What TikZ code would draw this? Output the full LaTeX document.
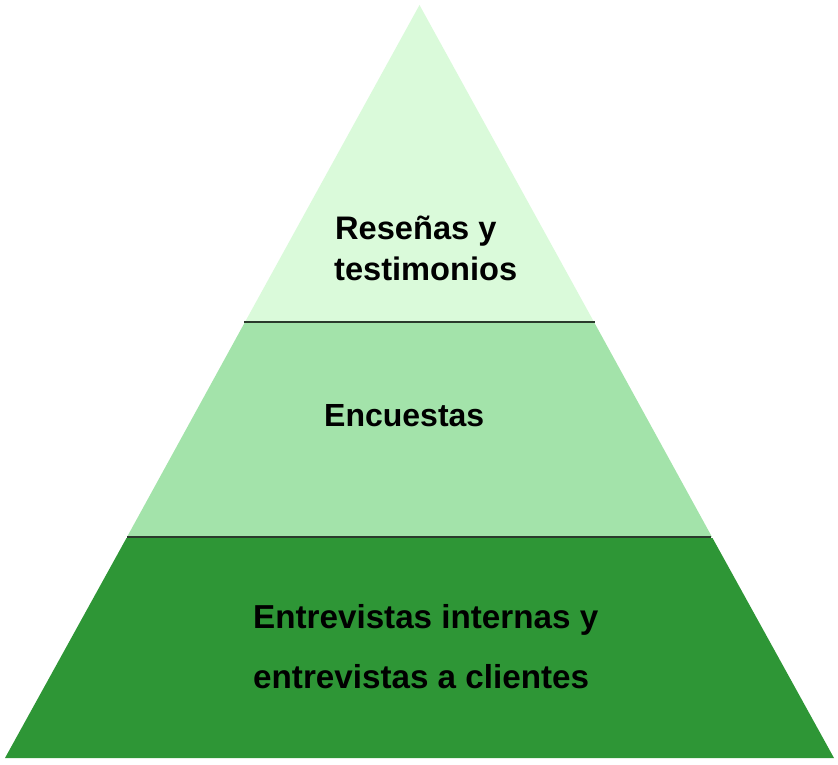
\documentclass[tikz,border=0pt]{standalone}
\usepackage{fontspec}
\setmainfont{Liberation Sans}
\definecolor{topg}{HTML}{DAFADA}
\definecolor{midg}{HTML}{A3E3AA}
\definecolor{botg}{HTML}{2E9636}
\definecolor{sepline}{HTML}{2A3A2C}
\begin{document}
\begin{tikzpicture}[x=1pt,y=1pt,
  lbl/.style={anchor=base west,inner sep=0pt,font=\fontsize{32}{38}\selectfont\bfseries,text=black},
  sep/.style={draw=sepline,line width=1.6pt}]
\useasboundingbox (0,0) rectangle (838,764);
% bands
\fill[topg] (419.5,759) -- (245,442) -- (594,442) -- cycle;
\fill[midg] (245,442) -- (127,227) -- (712,227) -- (594,442) -- cycle;
\fill[botg] (126.5,226) -- (5,6) -- (834,6) -- (712.5,226) -- cycle;
% separators
\coordinate (s1l) at (244,442); \coordinate (s1r) at (595,442);
\coordinate (s2l) at (127,227); \coordinate (s2r) at (711,227);
\draw[sep] (s1l) -- (s1r);
\draw[sep] (s2l) -- (s2r);
% labels
\node[lbl,font=\fontsize{32.6}{38}\selectfont\bfseries] (t1a) at (335,524) {Reseñas y};
\node[lbl,font=\fontsize{32.6}{38}\selectfont\bfseries] (t1b) at (334,483) {testimonios};
\node[lbl] (t2) at (324,337) {Encuestas};
\node[lbl,font=\fontsize{33.2}{38}\selectfont\bfseries] (t3a) at (253,136) {Entrevistas internas y};
\node[lbl,font=\fontsize{33.2}{38}\selectfont\bfseries] (t3b) at (253,76) {entrevistas a clientes};
\end{tikzpicture}
\end{document}
